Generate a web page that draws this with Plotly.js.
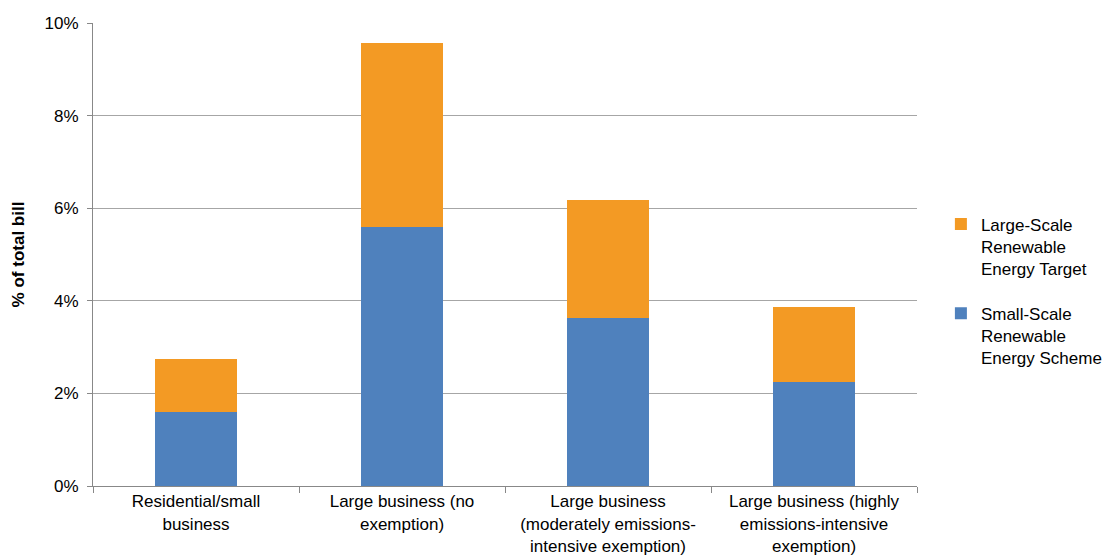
<!DOCTYPE html>
<html>
<head>
<meta charset="utf-8">
<script src="https://cdn.plot.ly/plotly-3.0.1.min.js"></script>
<style>html,body{margin:0;padding:0;background:#fff;}#chart{width:1113px;height:558px;}</style>
</head>
<body>
<div id="chart"></div>
<script>
const categories = [
  "Residential/small<br>business",
  "Large business (no<br>exemption)",
  "Large business<br>(moderately emissions-<br>intensive exemption)",
  "Large business (highly<br>emissions-intensive<br>exemption)"
];
const smallScale = [0.0160, 0.0559, 0.0363, 0.0225];
const largeScale = [0.0114, 0.0398, 0.0255, 0.0162];
const seriesNames = ["Small-Scale<br>Renewable<br>Energy Scheme", "Large-Scale<br>Renewable<br>Energy Target"];
const yTicks = [0, 0.02, 0.04, 0.06, 0.08, 0.10];

const font = {family: "Liberation Sans, Arial, sans-serif", size: 17, color: "#000"};

const traces = [
  {type: "bar", x: categories, y: smallScale, name: seriesNames[0], marker: {color: "#4f81bd"}, legendgroup: "b", legendrank: 2, hoverinfo: "none"},
  {type: "bar", x: categories, y: largeScale, name: seriesNames[1], marker: {color: "#f39a24"}, legendgroup: "a", legendrank: 1, hoverinfo: "none"}
];

const layout = {
  width: 1113, height: 558,
  margin: {l: 93, r: 196, t: 23, b: 72, autoexpand: false},
  paper_bgcolor: "#fff", plot_bgcolor: "#fff",
  barmode: "stack", bargap: 0.6,
  font: font,
  showlegend: true,
  legend: {x: 1.029, y: 0.604, xanchor: "left", yanchor: "top", traceorder: "grouped", tracegroupgap: 20, font: font, itemwidth: 30, valign: "top"},
  xaxis: {
    type: "category", showgrid: false, showline: true, linecolor: "#888", linewidth: 1,
    ticks: "outside", tickson: "boundaries", ticklen: 6, tickcolor: "#888",
    tickfont: font, fixedrange: true
  },
  yaxis: {
    range: [0, 0.10], tickvals: yTicks, tickformat: ".0%",
    showgrid: true, gridcolor: "#a6a6a6", gridwidth: 1,
    showline: true, linecolor: "#888", linewidth: 1,
    ticks: "outside", ticklen: 5, tickcolor: "#888",
    ticklabelstandoff: 5,
    tickfont: font, zeroline: false,
    title: {text: "<b>% of total bill</b>", font: font, standoff: 15}
  }
};

Plotly.newPlot("chart", traces, layout, {displayModeBar: false, staticPlot: true});
</script>
</body>
</html>
